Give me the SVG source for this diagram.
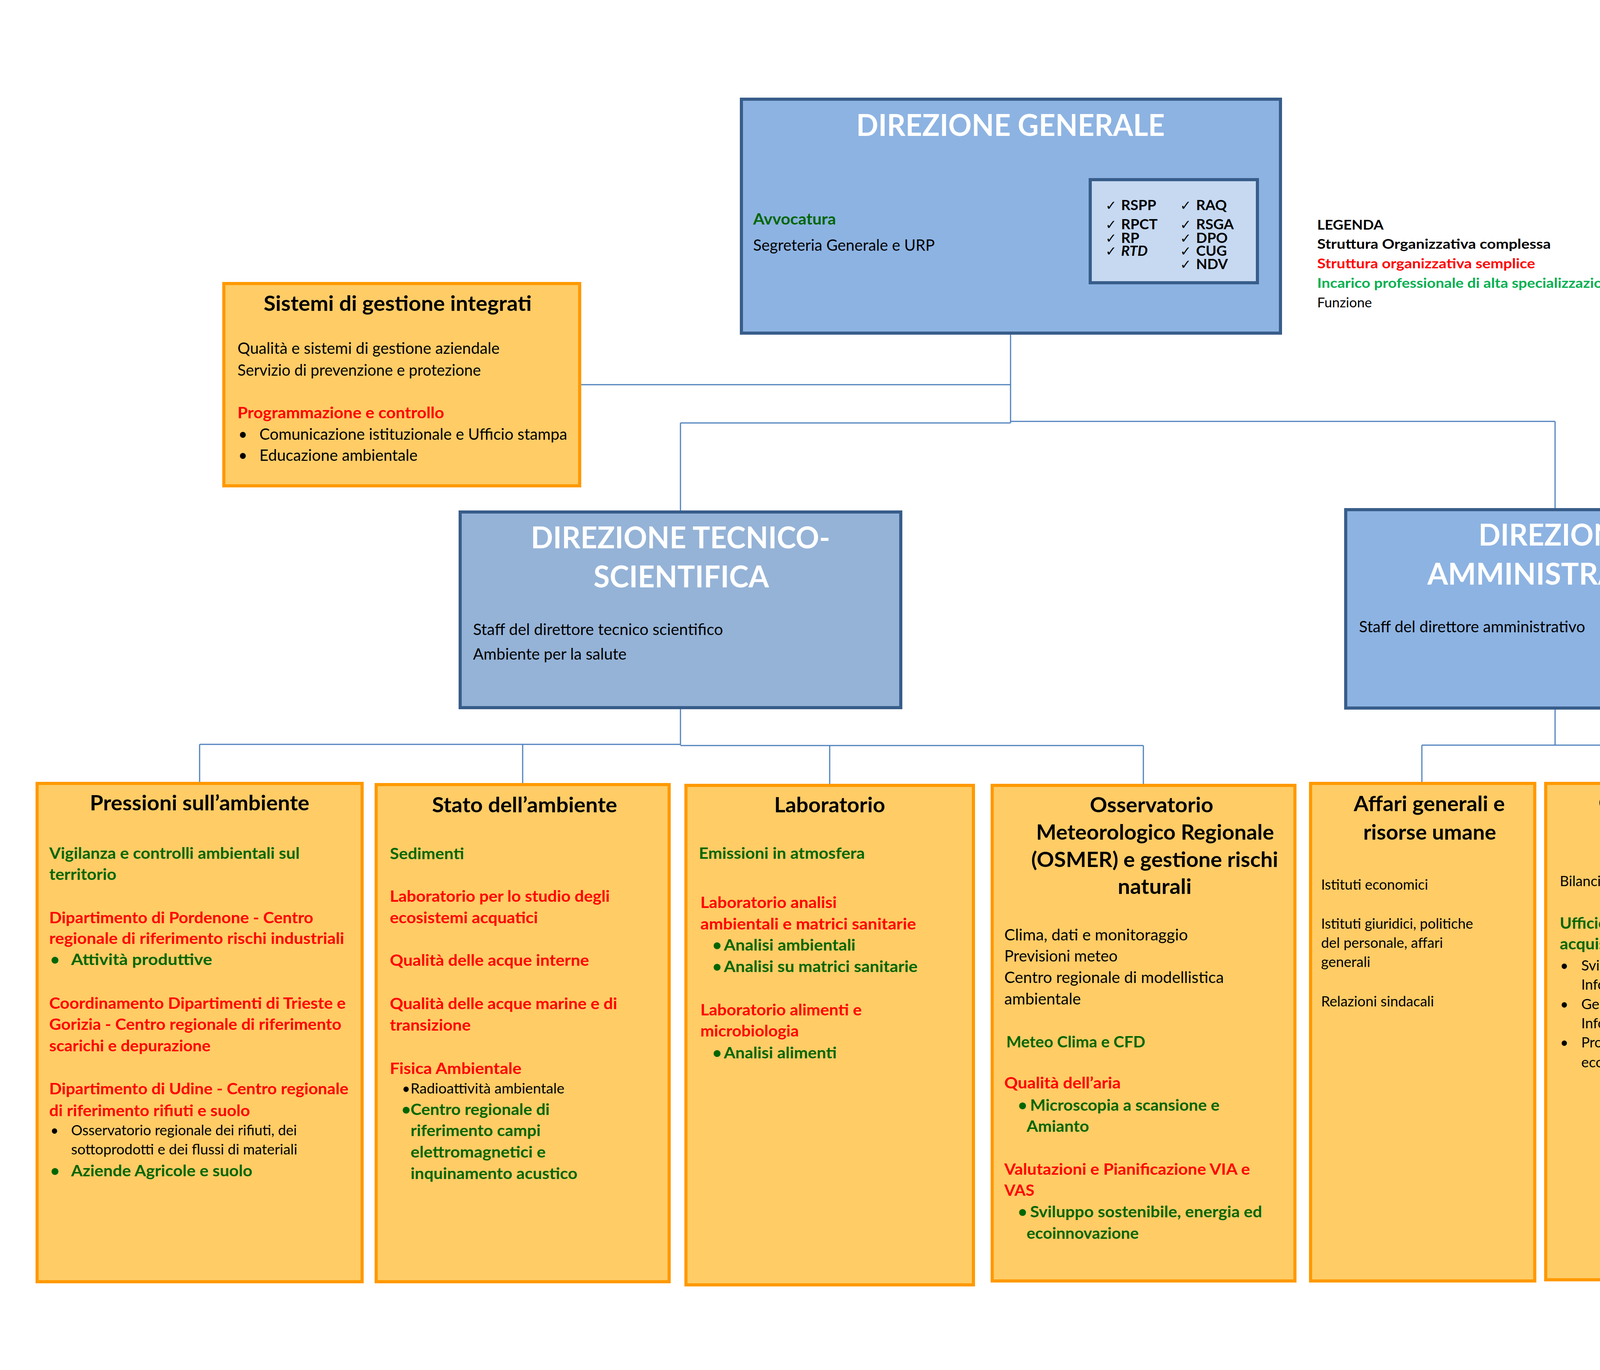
<svg xmlns="http://www.w3.org/2000/svg" width="4677" height="3508" viewBox="0 0 4677 3508">
<style>
text{font-family:Lato,'Liberation Sans',sans-serif}
.b{font-weight:bold}
.i{font-style:italic}
.red{fill:#FF0000}
.grn{fill:#006600}
.lg{fill:#00B050}
.blk{fill:#000000}
.wt{fill:#FFFFFF}
.mid{text-anchor:middle}
.f76{font-size:76px}
.f53{font-size:53px}
.f40{font-size:40px}
.f37{font-size:37px}
.f36{font-size:36px}
.f34{font-size:34px}
.chk{font-family:'DejaVu Sans',sans-serif;font-size:34px;font-weight:bold;fill:#000000}
.con{stroke:#4F81BD;stroke-width:3;fill:none}
.org{fill:#FFCC66;stroke:#FF9900;stroke-width:8}
.blu{stroke:#385D8A;stroke-width:8}
</style>
<rect width="4677" height="3508" fill="#FFFFFF"/>

<g id="connectors">
<path class="con" d="M2587 857 V1083"/>
<path class="con" d="M1488 985 H2587"/>
<path class="con" d="M1742 1083 H2587"/>
<path class="con" d="M2587 1079 H3981"/>
<path class="con" d="M1742 1083 V1307"/>
<path class="con" d="M3981 1079 V1301"/>
<path class="con" d="M1742 1816 V1908"/>
<path class="con" d="M511 1906 H1742"/>
<path class="con" d="M1742 1909 H2927"/>
<path class="con" d="M511 1906 V2002"/>
<path class="con" d="M1338 1907 V2005"/>
<path class="con" d="M2124 1909 V2007"/>
<path class="con" d="M2927 1909 V2007"/>
<path class="con" d="M3981 1817 V1908"/>
<path class="con" d="M3640 1908 H4272"/>
<path class="con" d="M3640 1908 V2002"/>
<path class="con" d="M4272 1908 V2002"/>
</g>

<g id="direzione-generale">
<rect class="blu" x="1898" y="254" width="1380" height="599" fill="#8DB3E2"/>
<text class="b wt f76 mid" x="2587" y="348" textLength="790" lengthAdjust="spacingAndGlyphs">DIREZIONE GENERALE</text>
<text class="b grn f40" x="1928" y="575" textLength="212" lengthAdjust="spacingAndGlyphs">Avvocatura</text>
<text class="blk f40" x="1928" y="642" textLength="465" lengthAdjust="spacingAndGlyphs">Segreteria Generale e URP</text>
<g id="funzioni-staff">
<rect class="blu" x="2791" y="460" width="428" height="264" fill="#C6D9F1"/>
<text class="chk" x="2830" y="538">✓</text>
<text class="chk" x="2830" y="587">✓</text>
<text class="chk" x="2830" y="622">✓</text>
<text class="chk" x="2830" y="655">✓</text>
<text class="chk" x="3021" y="538">✓</text>
<text class="chk" x="3021" y="587">✓</text>
<text class="chk" x="3021" y="622">✓</text>
<text class="chk" x="3021" y="655">✓</text>
<text class="chk" x="3021" y="689">✓</text>
<text class="b blk f37" x="2870" y="538">RSPP</text>
<text class="b blk f37" x="2870" y="587">RPCT</text>
<text class="b blk f37" x="2870" y="622">RP</text>
<text class="b i blk f37" x="2870" y="655">RTD</text>
<text class="b blk f37" x="3062" y="538">RAQ</text>
<text class="b blk f37" x="3062" y="587">RSGA</text>
<text class="b blk f37" x="3062" y="622">DPO</text>
<text class="b blk f37" x="3062" y="655">CUG</text>
<text class="b blk f37" x="3062" y="689">NDV</text>
</g>
</g>

<g id="legenda">
<text class="b blk f34" x="3372" y="588" textLength="170" lengthAdjust="spacingAndGlyphs">LEGENDA</text>
<text class="b blk f34" x="3372" y="637" textLength="598" lengthAdjust="spacingAndGlyphs">Struttura Organizzativa complessa</text>
<text class="b red f34" x="3372" y="687" textLength="558" lengthAdjust="spacingAndGlyphs">Struttura organizzativa semplice</text>
<text class="b lg f34" x="3372" y="737" textLength="773" lengthAdjust="spacingAndGlyphs">Incarico professionale di alta specializzazione</text>
<text class="blk f34" x="3372" y="787" textLength="140" lengthAdjust="spacingAndGlyphs">Funzione</text>
</g>

<g id="sistemi-gestione-integrati">
<rect class="org" x="573" y="726" width="911" height="518"/>
<text class="b blk f53 mid" x="1018" y="796" textLength="686" lengthAdjust="spacingAndGlyphs">Sistemi di gestione integrati</text>
<text class="blk f40" x="608" y="906" textLength="671" lengthAdjust="spacingAndGlyphs">Qualità e sistemi di gestione aziendale</text>
<text class="blk f40" x="608" y="962" textLength="623" lengthAdjust="spacingAndGlyphs">Servizio di prevenzione e protezione</text>
<text class="b red f40" x="608" y="1071" textLength="529" lengthAdjust="spacingAndGlyphs">Programmazione e controllo</text>
<text class="blk f40" x="610" y="1126">•</text>
<text class="blk f40" x="664" y="1126" textLength="788" lengthAdjust="spacingAndGlyphs">Comunicazione istituzionale e Ufficio stampa</text>
<text class="blk f40" x="610" y="1180">•</text>
<text class="blk f40" x="664" y="1180" textLength="405" lengthAdjust="spacingAndGlyphs">Educazione ambientale</text>
</g>

<g id="direzione-tecnico-scientifica">
<rect class="blu" x="1178" y="1311" width="1128" height="501" fill="#95B3D7"/>
<text class="b wt f76 mid" x="1742" y="1404" textLength="766" lengthAdjust="spacingAndGlyphs">DIREZIONE TECNICO-</text>
<text class="b wt f76 mid" x="1744" y="1504" textLength="449" lengthAdjust="spacingAndGlyphs">SCIENTIFICA</text>
<text class="blk f40" x="1211" y="1626" textLength="640" lengthAdjust="spacingAndGlyphs">Staff del direttore tecnico scientifico</text>
<text class="blk f40" x="1211" y="1689" textLength="393" lengthAdjust="spacingAndGlyphs">Ambiente per la salute</text>
</g>

<g id="direzione-amministrativa">
<rect class="blu" x="3445" y="1305" width="1073" height="508" fill="#8DB3E2"/>
<text class="b wt f76 mid" x="3982" y="1397" textLength="394" lengthAdjust="spacingAndGlyphs">DIREZIONE</text>
<text class="b wt f76 mid" x="3981" y="1497" textLength="654" lengthAdjust="spacingAndGlyphs">AMMINISTRATIVA</text>
<text class="blk f40" x="3479" y="1619" textLength="579" lengthAdjust="spacingAndGlyphs">Staff del direttore amministrativo</text>
</g>

<g id="pressioni-ambiente">
<rect class="org" x="95" y="2006" width="832" height="1276"/>
<text class="b blk f53 mid" x="511" y="2075" textLength="562" lengthAdjust="spacingAndGlyphs">Pressioni sull’ambiente</text>
<text class="b grn f40" x="126" y="2199" textLength="641" lengthAdjust="spacingAndGlyphs">Vigilanza e controlli ambientali sul</text>
<text class="b grn f40" x="126" y="2253" textLength="172" lengthAdjust="spacingAndGlyphs">territorio</text>
<text class="b red f40" x="126" y="2364" textLength="676" lengthAdjust="spacingAndGlyphs">Dipartimento di Pordenone - Centro</text>
<text class="b red f40" x="126" y="2417" textLength="755" lengthAdjust="spacingAndGlyphs">regionale di riferimento rischi industriali</text>
<text class="b grn f40" x="129" y="2471">•</text>
<text class="b grn f40" x="182" y="2471" textLength="361" lengthAdjust="spacingAndGlyphs">Attività produttive</text>
<text class="b red f40" x="126" y="2583" textLength="759" lengthAdjust="spacingAndGlyphs">Coordinamento Dipartimenti di Trieste e</text>
<text class="b red f40" x="126" y="2637" textLength="748" lengthAdjust="spacingAndGlyphs">Gorizia - Centro regionale di riferimento</text>
<text class="b red f40" x="126" y="2692" textLength="413" lengthAdjust="spacingAndGlyphs">scarichi e depurazione</text>
<text class="b red f40" x="126" y="2802" textLength="766" lengthAdjust="spacingAndGlyphs">Dipartimento di Udine - Centro regionale</text>
<text class="b red f40" x="126" y="2858" textLength="514" lengthAdjust="spacingAndGlyphs">di riferimento rifiuti e suolo</text>
<text class="blk f36" x="129" y="2907">•</text>
<text class="blk f36" x="182" y="2907" textLength="578" lengthAdjust="spacingAndGlyphs">Osservatorio regionale dei rifiuti, dei</text>
<text class="blk f36" x="182" y="2956" textLength="579" lengthAdjust="spacingAndGlyphs">sottoprodotti e dei flussi di materiali</text>
<text class="b grn f40" x="129" y="3012">•</text>
<text class="b grn f40" x="182" y="3012" textLength="464" lengthAdjust="spacingAndGlyphs">Aziende Agricole e suolo</text>
</g>

<g id="stato-ambiente">
<rect class="org" x="963" y="2009" width="750" height="1273"/>
<text class="b blk f53 mid" x="1343" y="2080" textLength="474" lengthAdjust="spacingAndGlyphs">Stato dell’ambiente</text>
<text class="b grn f40" x="998" y="2200" textLength="190" lengthAdjust="spacingAndGlyphs">Sedimenti</text>
<text class="b red f40" x="998" y="2309" textLength="563" lengthAdjust="spacingAndGlyphs">Laboratorio per lo studio degli</text>
<text class="b red f40" x="998" y="2364" textLength="379" lengthAdjust="spacingAndGlyphs">ecosistemi acquatici</text>
<text class="b red f40" x="998" y="2473" textLength="510" lengthAdjust="spacingAndGlyphs">Qualità delle acque interne</text>
<text class="b red f40" x="998" y="2584" textLength="582" lengthAdjust="spacingAndGlyphs">Qualità delle acque marine e di</text>
<text class="b red f40" x="998" y="2639" textLength="207" lengthAdjust="spacingAndGlyphs">transizione</text>
<text class="b red f40" x="998" y="2750" textLength="337" lengthAdjust="spacingAndGlyphs">Fisica Ambientale</text>
<text class="blk f36" x="1029" y="2800">•</text>
<text class="blk f36" x="1051" y="2800" textLength="394" lengthAdjust="spacingAndGlyphs">Radioattività ambientale</text>
<text class="b grn f40" x="1028" y="2855">•</text>
<text class="b grn f40" x="1051" y="2855" textLength="356" lengthAdjust="spacingAndGlyphs">Centro regionale di</text>
<text class="b grn f40" x="1051" y="2909" textLength="333" lengthAdjust="spacingAndGlyphs">riferimento campi</text>
<text class="b grn f40" x="1051" y="2964" textLength="346" lengthAdjust="spacingAndGlyphs">elettromagnetici e</text>
<text class="b grn f40" x="1051" y="3019" textLength="427" lengthAdjust="spacingAndGlyphs">inquinamento acustico</text>
</g>

<g id="laboratorio">
<rect class="org" x="1756" y="2011" width="736" height="1279"/>
<text class="b blk f53 mid" x="2124" y="2080" textLength="284" lengthAdjust="spacingAndGlyphs">Laboratorio</text>
<text class="b grn f40" x="1789" y="2199" textLength="425" lengthAdjust="spacingAndGlyphs">Emissioni in atmosfera</text>
<text class="b red f40" x="1793" y="2325" textLength="349" lengthAdjust="spacingAndGlyphs">Laboratorio analisi</text>
<text class="b red f40" x="1793" y="2380" textLength="552" lengthAdjust="spacingAndGlyphs">ambientali e matrici sanitarie</text>
<text class="b grn f40" x="1824" y="2434">•</text>
<text class="b grn f40" x="1853" y="2434" textLength="337" lengthAdjust="spacingAndGlyphs">Analisi ambientali</text>
<text class="b grn f40" x="1824" y="2489">•</text>
<text class="b grn f40" x="1853" y="2489" textLength="496" lengthAdjust="spacingAndGlyphs">Analisi su matrici sanitarie</text>
<text class="b red f40" x="1793" y="2600" textLength="413" lengthAdjust="spacingAndGlyphs">Laboratorio alimenti e</text>
<text class="b red f40" x="1793" y="2654" textLength="252" lengthAdjust="spacingAndGlyphs">microbiologia</text>
<text class="b grn f40" x="1824" y="2710">•</text>
<text class="b grn f40" x="1853" y="2710" textLength="289" lengthAdjust="spacingAndGlyphs">Analisi alimenti</text>
</g>

<g id="osmer">
<rect class="org" x="2540" y="2011" width="775" height="1269"/>
<text class="b blk f53 mid" x="2948" y="2080" textLength="316" lengthAdjust="spacingAndGlyphs">Osservatorio</text>
<text class="b blk f53 mid" x="2957" y="2150" textLength="609" lengthAdjust="spacingAndGlyphs">Meteorologico Regionale</text>
<text class="b blk f53 mid" x="2956" y="2220" textLength="632" lengthAdjust="spacingAndGlyphs">(OSMER) e gestione rischi</text>
<text class="b blk f53 mid" x="2956" y="2289" textLength="189" lengthAdjust="spacingAndGlyphs">naturali</text>
<text class="blk f40" x="2571" y="2408" textLength="470" lengthAdjust="spacingAndGlyphs">Clima, dati e  monitoraggio</text>
<text class="blk f40" x="2571" y="2462" textLength="290" lengthAdjust="spacingAndGlyphs">Previsioni meteo</text>
<text class="blk f40" x="2571" y="2517" textLength="562" lengthAdjust="spacingAndGlyphs">Centro regionale di  modellistica</text>
<text class="blk f40" x="2571" y="2572" textLength="196" lengthAdjust="spacingAndGlyphs">ambientale</text>
<text class="b grn f40" x="2576" y="2682" textLength="356" lengthAdjust="spacingAndGlyphs">Meteo Clima e CFD</text>
<text class="b red f40" x="2571" y="2787" textLength="298" lengthAdjust="spacingAndGlyphs">Qualità dell’aria</text>
<text class="b grn f40" x="2606" y="2844">•</text>
<text class="b grn f40" x="2637" y="2844" textLength="485" lengthAdjust="spacingAndGlyphs">Microscopia a scansione e</text>
<text class="b grn f40" x="2628" y="2898" textLength="160" lengthAdjust="spacingAndGlyphs">Amianto</text>
<text class="b red f40" x="2571" y="3008" textLength="629" lengthAdjust="spacingAndGlyphs">Valutazioni  e Pianificazione VIA e</text>
<text class="b red f40" x="2571" y="3062" textLength="77" lengthAdjust="spacingAndGlyphs">VAS</text>
<text class="b grn f40" x="2606" y="3117">•</text>
<text class="b grn f40" x="2637" y="3117" textLength="594" lengthAdjust="spacingAndGlyphs">Sviluppo sostenibile, energia ed</text>
<text class="b grn f40" x="2628" y="3172" textLength="287" lengthAdjust="spacingAndGlyphs">ecoinnovazione</text>
</g>

<g id="affari-generali">
<rect class="org" x="3355" y="2006" width="574" height="1274"/>
<text class="b blk f53 mid" x="3659" y="2077" textLength="387" lengthAdjust="spacingAndGlyphs">Affari generali e</text>
<text class="b blk f53 mid" x="3660" y="2150" textLength="340" lengthAdjust="spacingAndGlyphs">risorse umane</text>
<text class="blk f36" x="3382" y="2278" textLength="274" lengthAdjust="spacingAndGlyphs">Istituti economici</text>
<text class="blk f36" x="3382" y="2378" textLength="389" lengthAdjust="spacingAndGlyphs">Istituti giuridici, politiche</text>
<text class="blk f36" x="3382" y="2427" textLength="312" lengthAdjust="spacingAndGlyphs">del personale, affari</text>
<text class="blk f36" x="3382" y="2476" textLength="126" lengthAdjust="spacingAndGlyphs">generali</text>
<text class="blk f36" x="3382" y="2577" textLength="289" lengthAdjust="spacingAndGlyphs">Relazioni sindacali</text>
</g>

<g id="gestione-risorse-economiche">
<rect class="org" x="3957" y="2006" width="630" height="1271"/>
<text class="b blk f53 mid" x="4290" y="2075" textLength="395" lengthAdjust="spacingAndGlyphs">Gestione risorse</text>
<text class="b blk f53 mid" x="4290" y="2145" textLength="284" lengthAdjust="spacingAndGlyphs">economiche</text>
<text class="blk f36" x="3993" y="2269" textLength="330" lengthAdjust="spacingAndGlyphs">Bilancio e contabilità</text>
<text class="b grn f40" x="3993" y="2378" textLength="384" lengthAdjust="spacingAndGlyphs">Ufficio Tecnico, ICT e</text>
<text class="b grn f40" x="3993" y="2431" textLength="146" lengthAdjust="spacingAndGlyphs">acquisti</text>
<text class="blk f36" x="3994" y="2485">•</text>
<text class="blk f36" x="4048" y="2485" textLength="332" lengthAdjust="spacingAndGlyphs">Sviluppo del Sistema</text>
<text class="blk f36" x="4048" y="2534" textLength="184" lengthAdjust="spacingAndGlyphs">Informativo</text>
<text class="blk f36" x="3994" y="2584">•</text>
<text class="blk f36" x="4048" y="2584" textLength="273" lengthAdjust="spacingAndGlyphs">Gestione Sistemi</text>
<text class="blk f36" x="4048" y="2633" textLength="172" lengthAdjust="spacingAndGlyphs">Informatici</text>
<text class="blk f36" x="3994" y="2682">•</text>
<text class="blk f36" x="4048" y="2682" textLength="284" lengthAdjust="spacingAndGlyphs">Provveditorato ed</text>
<text class="blk f36" x="4048" y="2733" textLength="181" lengthAdjust="spacingAndGlyphs">economato</text>
</g>
</svg>
